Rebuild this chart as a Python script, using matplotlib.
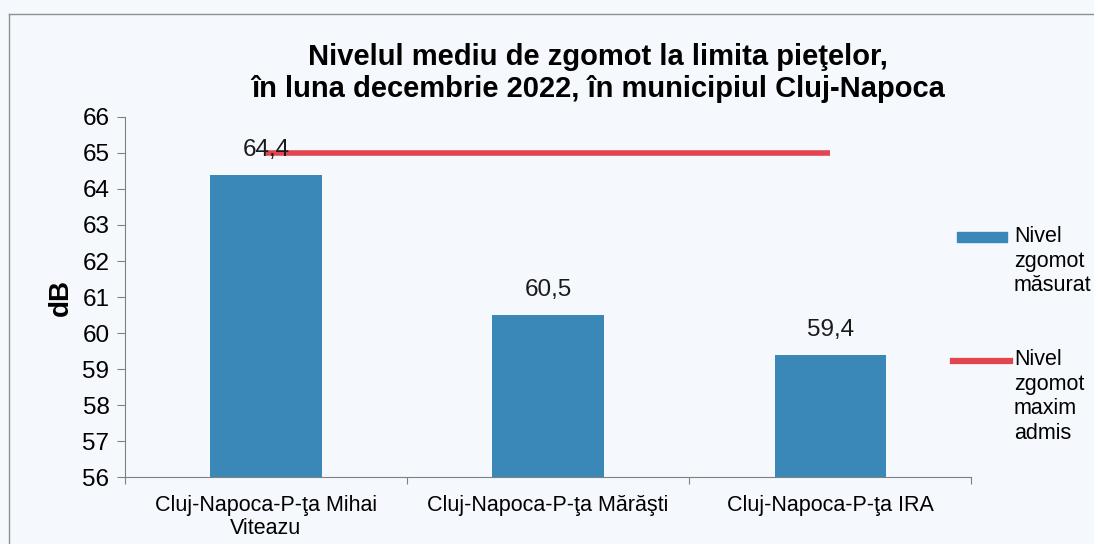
import matplotlib.pyplot as plt
from matplotlib.lines import Line2D
from matplotlib.patches import Rectangle

plt.rcParams['font.family'] = ['Liberation Sans', 'DejaVu Sans']

locations = ['Cluj-Napoca-P-ţa Mihai\nViteazu', 'Cluj-Napoca-P-ţa Mărăşti', 'Cluj-Napoca-P-ţa IRA']
measured = [64.4, 60.5, 59.4]
max_allowed = [65, 65, 65]
y_ticks = [56, 57, 58, 59, 60, 61, 62, 63, 64, 65, 66]
legend_labels = ['Nivel\nzgomot\nmăsurat', 'Nivel\nzgomot\nmaxim\nadmis']

bg = '#f5f8fc'
bar_color = '#3a88b8'
line_color = '#e2454d'

fig = plt.figure(figsize=(10.94, 5.44), dpi=100, facecolor=bg)
ax = fig.add_axes([0.114, 0.123, 0.774, 0.662])
ax.set_facecolor(bg)

x = list(range(len(locations)))
ax.bar(x, measured, width=0.395, color=bar_color, zorder=2)
ax.plot(x, max_allowed, color=line_color, linewidth=4, solid_capstyle='butt', zorder=3)

for xi, v in zip(x, measured):
    ax.annotate(f'{v:.1f}'.replace('.', ','), (xi, v), xytext=(0, 18), textcoords='offset points',
                ha='center', va='center', fontsize=17.5, color='#1a1a1a', zorder=4)

ax.set_ylim(56, 66)
ax.set_xlim(-0.5, len(locations) - 0.5)
ax.set_yticks(y_ticks)
ax.set_yticklabels([str(t) for t in y_ticks], fontsize=17.5)
ax.set_xticks([i - 0.5 for i in range(len(locations) + 1)])
ax.set_xticklabels([])
ax.set_xticks(x, minor=True)
ax.set_xticklabels(locations, minor=True, fontsize=15.5, linespacing=1.1)
ax.tick_params(axis='x', which='minor', length=0, pad=13)
ax.tick_params(axis='x', which='major', length=5, color='#808080', direction='out')
ax.tick_params(axis='y', length=6, color='#808080', pad=5)

for side in ['top', 'right']:
    ax.spines[side].set_visible(False)
for side in ['left', 'bottom']:
    ax.spines[side].set_color('#808080')

ax.set_ylabel('dB', fontsize=20, fontweight='bold', labelpad=6)

fig.text(0.547, 0.866, 'Nivelul mediu de zgomot la limita pieţelor,\nîn luna decembrie 2022, în municipiul Cluj-Napoca',
         ha='center', va='center', fontsize=21, fontweight='bold', linespacing=1.15)

# legend drawn by hand so each key lines up with the first text line
fig.add_artist(Rectangle((957 / 1094, 1 - 242 / 544), 50 / 1094, 10 / 544,
                         transform=fig.transFigure, color=bar_color))
fig.add_artist(Line2D([953 / 1094, 1010 / 1094], [1 - 361 / 544] * 2,
                      transform=fig.transFigure, color=line_color, linewidth=4.5))
for label, top in zip(legend_labels, [226, 349]):
    fig.text(1014 / 1094, 1 - top / 544, label, ha='left', va='top', fontsize=15.5, linespacing=1.22)

# page frame
fig.add_artist(Line2D([0.008, 0.008], [0, 0.975], color='#909090', linewidth=1))
fig.add_artist(Line2D([0.008, 1], [0.975, 0.975], color='#909090', linewidth=1))

fig.savefig('out.png', dpi=100, facecolor=bg)
